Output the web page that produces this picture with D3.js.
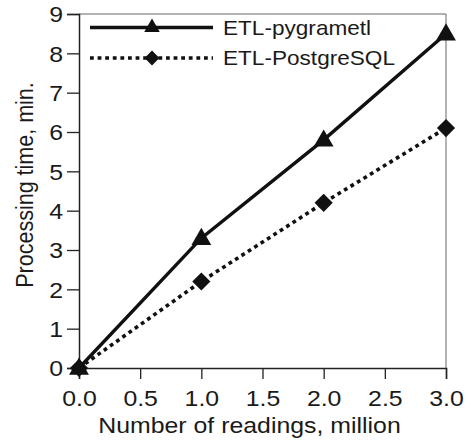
<!DOCTYPE html>
<html>
<head>
<meta charset="utf-8">
<script src="https://cdn.jsdelivr.net/npm/d3@7"></script>
<style>
  html, body { margin: 0; padding: 0; background: #fff; }
  text { font-family: "Liberation Sans", Arial, sans-serif; fill: #1a1a1a; }
</style>
</head>
<body>
<svg id="chart" width="471" height="441"></svg>
<script>
// data
const readings = [0, 1, 2, 3];                 // million
const pygrametl = [0, 3.3, 5.8, 8.5];          // minutes
const postgres = [0, 2.2, 4.2, 6.1];           // minutes
const xTicks = [0, 0.5, 1, 1.5, 2, 2.5, 3];
const yTicks = [0, 1, 2, 3, 4, 5, 6, 7, 8, 9];
const seriesNames = ["ETL-pygrametl", "ETL-PostgreSQL"];

const svg = d3.select("#chart");
const plotLeft = 79, plotRight = 446, plotTop = 14, plotBottom = 368;
const sx = 1.13; // source picture is a bit wider than tall

const x = d3.scaleLinear().domain([0, 3]).range([plotLeft, plotRight]);
const y = d3.scaleLinear().domain([0, 9]).range([plotBottom, plotTop]);

// frame: top and right spines are light
svg.append("line")
  .attr("x1", plotLeft).attr("x2", plotRight).attr("y1", plotTop).attr("y2", plotTop)
  .attr("stroke", "#666").attr("stroke-width", 1);
svg.append("line")
  .attr("x1", plotRight).attr("x2", plotRight).attr("y1", plotTop).attr("y2", plotBottom)
  .attr("stroke", "#666").attr("stroke-width", 1);

// axes
const xAxis = svg.append("g")
  .attr("transform", `translate(0,${plotBottom})`)
  .call(d3.axisBottom(x).tickValues(xTicks).tickSize(11).tickFormat(d3.format(".1f")));
const yAxis = svg.append("g")
  .attr("transform", `translate(${plotLeft},0)`)
  .call(d3.axisLeft(y).tickValues(yTicks).tickSize(12).tickFormat(d3.format("d")));

[xAxis, yAxis].forEach(a => {
  a.select(".domain").attr("stroke", "#222").attr("stroke-width", 1.5);
  a.selectAll(".tick line").attr("stroke", "#222").attr("stroke-width", 1.3);
  a.selectAll("text").attr("font-size", 22).attr("fill", "#1a1a1a")
    .attr("font-family", "Liberation Sans, Arial, sans-serif");
});
xAxis.selectAll(".tick text").attr("y", 0).attr("dy", 0)
  .attr("transform", `translate(0,38) scale(${sx},1)`);
yAxis.selectAll(".tick text").attr("x", 0).attr("dy", "0.36em")
  .attr("transform", `translate(-16,0) scale(${sx},1)`);

// axis titles
svg.append("text")
  .attr("transform", `translate(${(plotLeft + plotRight) / 2 - 13},433) scale(${sx},1)`)
  .attr("text-anchor", "middle").attr("font-size", 22)
  .text("Number of readings, million");
svg.append("text")
  .attr("transform", `translate(33,185) scale(${sx},1) rotate(-90)`)
  .attr("text-anchor", "middle").attr("font-size", 21.5)
  .text("Processing time, min.");

// lines
const line = d3.line().x((d, i) => x(readings[i])).y(d => y(d));
svg.append("path").datum(postgres)
  .attr("d", line).attr("fill", "none")
  .attr("stroke", "#111").attr("stroke-width", 3.6)
  .attr("stroke-dasharray", "3.8,3.8");
svg.append("path").datum(pygrametl)
  .attr("d", line).attr("fill", "none")
  .attr("stroke", "#111").attr("stroke-width", 3.4);

const tri = d3.symbol().type(d3.symbolTriangle).size(170);
const dia = d3.symbol().type(d3.symbolSquare).size(165);

svg.append("g").selectAll("path")
  .data(postgres).join("path")
  .attr("d", dia)
  .attr("transform", (d, i) => `translate(${x(readings[i])},${y(d)}) rotate(45)`)
  .attr("fill", "#111");
svg.append("g").selectAll("path")
  .data(pygrametl).join("path")
  .attr("d", tri)
  .attr("transform", (d, i) => `translate(${x(readings[i])},${y(d) + 1})`)
  .attr("fill", "#111");

// legend
const legend = svg.append("g");
const legendRows = [
  { name: seriesNames[0], y: 27.5, dash: null, mark: d3.symbol().type(d3.symbolTriangle).size(105), rot: 0 },
  { name: seriesNames[1], y: 58, dash: "3.8,3.8", mark: d3.symbol().type(d3.symbolSquare).size(110), rot: 45 }
];
legendRows.forEach(r => {
  legend.append("line")
    .attr("x1", 90).attr("x2", 213).attr("y1", r.y).attr("y2", r.y)
    .attr("stroke", "#111").attr("stroke-width", r.dash ? 3.6 : 3.4)
    .attr("stroke-dasharray", r.dash);
  legend.append("path")
    .attr("d", r.mark)
    .attr("transform", `translate(152,${r.y}) rotate(${r.rot})`)
    .attr("fill", "#111");
  legend.append("text")
    .attr("transform", `translate(223,${r.y + 7}) scale(${sx},1)`)
    .attr("font-size", 20)
    .text(r.name);
});
</script>
</body>
</html>
